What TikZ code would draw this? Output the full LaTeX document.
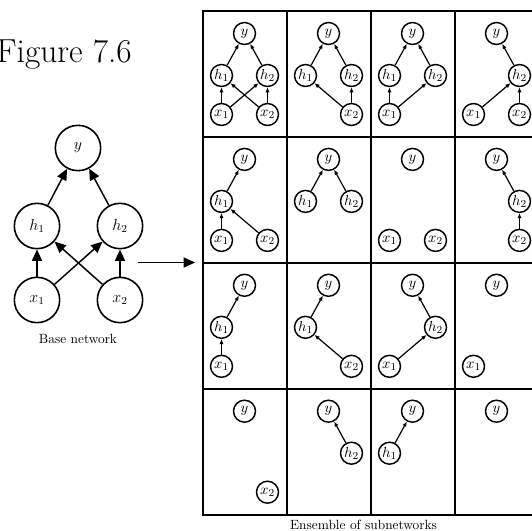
\documentclass[tikz,border=0pt]{standalone}
\usetikzlibrary{arrows.meta}
\def\py{42,22.5}
\def\pha{19,64.5}
\def\phb{65,64.5}
\def\pxa{19,103.5}
\def\pxb{65,103.5}
\def\ly{$y$}
\def\lha{$h_1$}
\def\lhb{$h_2$}
\def\lxa{$x_1$}
\def\lxb{$x_2$}
\newcommand{\subnodes}[3]{%
  \begin{scope}[shift={({202.5+84*#1},{11+125.9*#2})}]
    \foreach \n in {#3}{\node[snode] (s#1#2\n) at (\csname p\n\endcsname) {\csname l\n\endcsname};}
  \end{scope}}
\newcommand{\subedges}[3]{%
  \foreach \a/\b in {#3}{\draw[sarrow] (s#1#2\a) -- (s#1#2\b);}}
\begin{document}
\begin{tikzpicture}[x=0.75pt,y=-0.75pt,
  bnode/.style={circle,draw,line width=1.2pt,minimum size=34pt,inner sep=0pt,font=\large},
  snode/.style={circle,draw,line width=1.1pt,minimum size=16.5pt,inner sep=0pt,font=\fontsize{11}{13}\selectfont},
  barrow/.style={line width=1.1pt,-{Triangle[length=8.5pt,width=7.5pt]}},
  sarrow/.style={line width=0.9pt,-{Latex[length=3.8pt,width=3.2pt]}},
  gridline/.style={line width=1.5pt}]
\useasboundingbox (0,0) rectangle (532,531);
% title
\node[anchor=base east,inner sep=0pt,font=\fontsize{25}{30}\selectfont] (title) at (132,63) {Figure 7.6};
% base network
\node[bnode] (y) at (78,148) {$y$};
\node[bnode] (h1) at (37,226) {$h_1$};
\node[bnode] (h2) at (120,226) {$h_2$};
\node[bnode] (x1) at (37,300) {$x_1$};
\node[bnode] (x2) at (120,300) {$x_2$};
\draw[barrow] (h1) -- (y);
\draw[barrow] (h2) -- (y);
\draw[barrow] (x1) -- (h1);
\draw[barrow] (x2) -- (h2);
\draw[barrow] (x1) -- (h2);
\draw[barrow] (x2) -- (h1);
\node[anchor=base,inner sep=0pt] (blabel) at (78,343) {Base network};
% arrow to ensemble
\coordinate (as) at (138,262.5);
\coordinate (ae) at (195,262.5);
\draw[barrow] (as) -- (ae);
% grid
\draw[gridline] (202.5,11) rectangle (538.5,514.5);
\foreach \c in {1,2,3}{\draw[gridline] ({202.5+84*\c},11) -- ({202.5+84*\c},514.5);}
\foreach \r in {1,2,3}{\draw[gridline] (202.5,{11+125.9*\r}) -- (538.5,{11+125.9*\r});}
% row 0
\subnodes{0}{0}{y,ha,hb,xa,xb}
\subedges{0}{0}{ha/y,hb/y,xa/ha,xa/hb,xb/ha,xb/hb}
\subnodes{1}{0}{y,ha,hb,xb}
\subedges{1}{0}{ha/y,hb/y,xb/ha,xb/hb}
\subnodes{2}{0}{y,ha,hb,xa}
\subedges{2}{0}{ha/y,hb/y,xa/ha,xa/hb}
\subnodes{3}{0}{y,hb,xa,xb}
\subedges{3}{0}{hb/y,xa/hb,xb/hb}
% row 1
\subnodes{0}{1}{y,ha,xa,xb}
\subedges{0}{1}{ha/y,xa/ha,xb/ha}
\subnodes{1}{1}{y,ha,hb}
\subedges{1}{1}{ha/y,hb/y}
\subnodes{2}{1}{y,xa,xb}
\subnodes{3}{1}{y,hb,xb}
\subedges{3}{1}{hb/y,xb/hb}
% row 2
\subnodes{0}{2}{y,ha,xa}
\subedges{0}{2}{ha/y,xa/ha}
\subnodes{1}{2}{y,ha,xb}
\subedges{1}{2}{ha/y,xb/ha}
\subnodes{2}{2}{y,hb,xa}
\subedges{2}{2}{hb/y,xa/hb}
\subnodes{3}{2}{y,xa}
% row 3
\subnodes{0}{3}{y,xb}
\subnodes{1}{3}{y,hb}
\subedges{1}{3}{hb/y}
\subnodes{2}{3}{y,ha}
\subedges{2}{3}{ha/y}
\subnodes{3}{3}{y}
% caption
\node[anchor=base,inner sep=0pt] (elabel) at (363.5,529) {Ensemble of subnetworks};
\end{tikzpicture}
\end{document}
